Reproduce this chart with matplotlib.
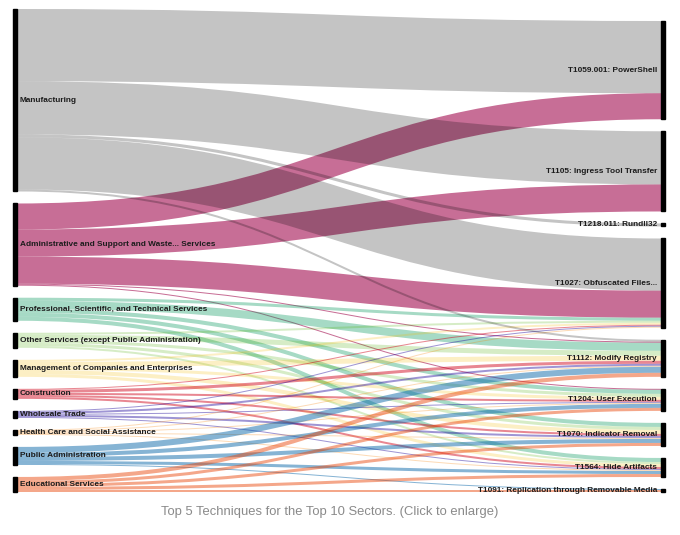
import matplotlib
matplotlib.use("Agg")
import matplotlib.pyplot as plt
from matplotlib.path import Path
from matplotlib.patches import PathPatch, Rectangle
from matplotlib.colors import to_rgb
import numpy as np

# sectors (left column) and techniques (right column), top to bottom
sectors = [
    "Manufacturing",
    "Administrative and Support and Waste... Services",
    "Professional, Scientific, and Technical Services",
    "Other Services (except Public Administration)",
    "Management of Companies and Enterprises",
    "Construction",
    "Wholesale Trade",
    "Health Care and Social Assistance",
    "Public Administration",
    "Educational Services",
]
sector_colors = ["#c4c4c4", "#c86e96", "#a6dac5", "#d6edc6", "#fdefc4",
                 "#e98792", "#9f95d4", "#fddbb6", "#86b4d5", "#f5a78a"]
techniques = [
    "T1059.001: PowerShell",
    "T1105: Ingress Tool Transfer",
    "T1218.011: Rundll32",
    "T1027: Obfuscated Files...",
    "T1112: Modify Registry",
    "T1204: User Execution",
    "T1070: Indicator Removal",
    "T1564: Hide Artifacts",
    "T1091: Replication through Removable Media",
]

# links: sector index -> technique index, value
link_source = [0, 0, 0, 0, 0,
               1, 1, 1, 1, 1,
               2, 2, 2, 2, 2,
               3, 3, 3, 3, 3,
               4, 4, 4, 4, 4,
               5, 5, 5, 5, 5,
               6, 6, 6, 6, 6,
               7, 7, 7, 7, 7,
               8, 8, 8, 8, 8,
               9, 9, 9, 9, 9]
link_target = [0, 1, 2, 3, 4,
               0, 1, 3, 4, 5,
               3, 4, 5, 6, 7,
               3, 4, 5, 6, 7,
               3, 4, 5, 6, 7,
               3, 4, 5, 6, 7,
               3, 4, 5, 6, 7,
               3, 4, 5, 6, 7,
               4, 5, 6, 7, 8,
               4, 5, 6, 7, 8]
link_value = [72, 53, 3, 52, 2,
              26, 27, 27, 1, 1,
              3, 8, 4, 4, 4,
              2, 5, 3, 3, 2,
              2, 5, 3, 4, 3,
              1, 3, 2, 2, 2,
              1, 2, 1, 2, 1,
              1, 1, 1, 1, 1,
              6, 4, 4, 3, 1,
              4, 3, 3, 3, 2]

caption = "Top 5 Techniques for the Top 10 Sectors. (Click to enlarge)"


def multiply_rgba(col):
    # alpha-blended colour that mimics mix-blend-mode: multiply
    c = np.array(to_rgb(col))
    m = c.min()
    a = 1 - m
    if a < 1e-3:
        return (1, 1, 1, 0)
    k = (c - m) / a
    return (k[0], k[1], k[2], a)


W, H = 680, 535
fig = plt.figure(figsize=(W / 100, H / 100), dpi=100)
ax = fig.add_axes([0, 0, 1, 1])
ax.set_xlim(0, W)
ax.set_ylim(H, 0)
ax.axis("off")

top, bottom, pad = 9, 492, 12
node_w = 4
left_x, right_x = 13, 661

src_tot = np.zeros(len(sectors))
tgt_tot = np.zeros(len(techniques))
for s, t, v in zip(link_source, link_target, link_value):
    src_tot[s] += v
    tgt_tot[t] += v

ky = min((bottom - top - (len(sectors) - 1) * pad) / src_tot.sum(),
         (bottom - top - (len(techniques) - 1) * pad) / tgt_tot.sum())

# node positions: left column from the top, right column pushed to bottom
src_y0 = []
y = top
for v in src_tot:
    src_y0.append(y)
    y += v * ky + pad
tgt_y0 = []
y = bottom - (tgt_tot.sum() * ky + (len(techniques) - 1) * pad)
for v in tgt_tot:
    tgt_y0.append(y)
    y += v * ky + pad

# link offsets (sorted by the other end's order)
order = sorted(range(len(link_value)), key=lambda i: (link_source[i], link_target[i]))
s_off = list(src_y0)
ys = {}
for i in order:
    s = link_source[i]
    ys[i] = s_off[s] + link_value[i] * ky / 2
    s_off[s] += link_value[i] * ky
order = sorted(range(len(link_value)), key=lambda i: (link_target[i], link_source[i]))
t_off = list(tgt_y0)
yt = {}
for i in order:
    t = link_target[i]
    yt[i] = t_off[t] + link_value[i] * ky / 2
    t_off[t] += link_value[i] * ky

x0 = left_x + node_w
x1 = right_x
xm = (x0 + x1) / 2
for i in range(len(link_value)):
    s = link_source[i]
    verts = [(x0, ys[i]), (xm, ys[i]), (xm, yt[i]), (x1, yt[i])]
    path = Path(verts, [Path.MOVETO, Path.CURVE4, Path.CURVE4, Path.CURVE4])
    patch = PathPatch(path, fill=False, edgecolor=multiply_rgba(sector_colors[s]),
                      lw=link_value[i] * ky * 0.72, capstyle="butt",
                      zorder=2 if s == 0 else 1)
    ax.add_patch(patch)

lab_font = dict(family="Liberation Sans", fontsize=5.95, fontweight="bold", color="#1c1c1c")
for name, y0, v in zip(sectors, src_y0, src_tot):
    ax.add_patch(Rectangle((left_x, y0), node_w, v * ky, color="black", zorder=3))
    ax.text(left_x + node_w + 3, y0 + v * ky / 2, name, ha="left", va="center",
            zorder=4, **lab_font)
for name, y0, v in zip(techniques, tgt_y0, tgt_tot):
    ax.add_patch(Rectangle((right_x, y0), node_w, v * ky, color="black", zorder=3))
    ax.text(right_x - 4, y0 + v * ky / 2, name, ha="right", va="center",
            zorder=4, **lab_font)

ax.text(330, 512, caption, ha="center", va="center", family="Liberation Sans",
        fontsize=9.35, color="#8a8a8a")

fig.savefig("out.png", dpi=100)
